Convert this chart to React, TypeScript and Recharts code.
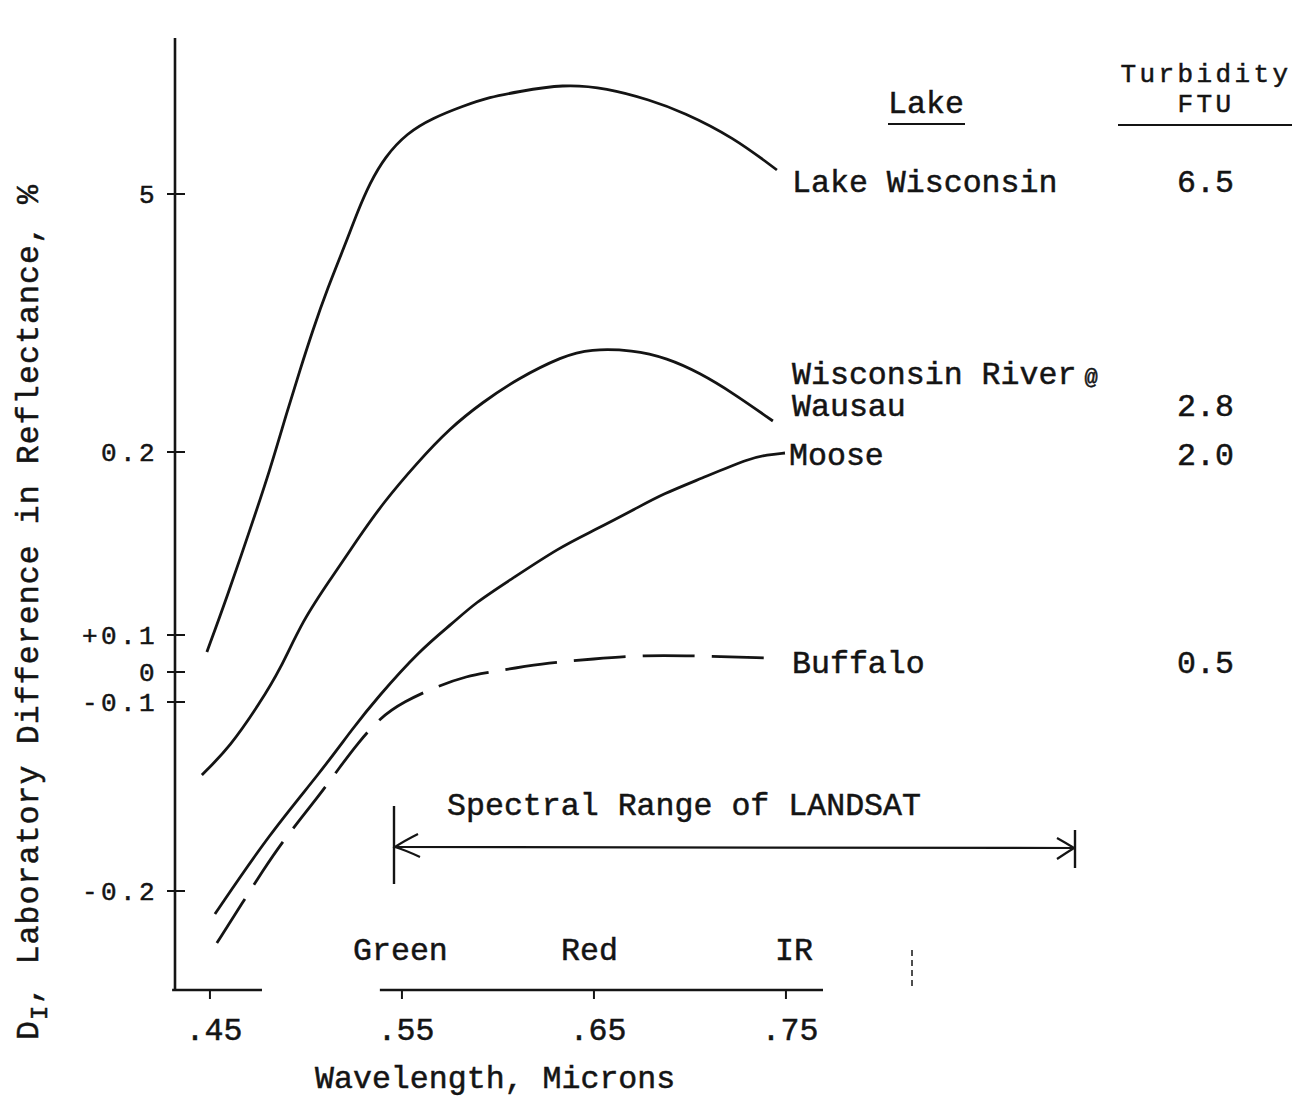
import React from 'react';
import { LineChart, Line, XAxis, YAxis, ReferenceLine, Customized } from 'recharts';

const FONT = '"Liberation Mono", "Courier New", monospace';
const INK = '#141414';
const FS = 31.6;

// Wavelength (microns) and plotted value (chart units; see tick labels) for each series
const lakeWisconsinWl = [0.4484, 0.4589, 0.4708, 0.4813, 0.4901, 0.4969, 0.5036, 0.5109, 0.5214, 0.5266, 0.5333, 0.5411, 0.5526, 0.5661, 0.5818, 0.5958, 0.6099, 0.6339, 0.6568, 0.6792, 0.6964, 0.7224, 0.7453];
const lakeWisconsinVal = [0.2, 0.75, 1.42, 2.02, 2.6, 3.02, 3.42, 3.82, 4.32, 4.59, 4.89, 5.15, 5.39, 5.54, 5.66, 5.75, 5.8, 5.88, 5.84, 5.72, 5.6, 5.35, 5.02];

const wisconsinRiverWl = [0.4458, 0.4604, 0.476, 0.4865, 0.4984, 0.5125, 0.5266, 0.5401, 0.5578, 0.575, 0.5922, 0.6099, 0.6339, 0.6479, 0.6703, 0.688, 0.7052, 0.7224, 0.7432];
const wisconsinRiverVal = [-1.03, -0.75, -0.31, 0.02, 0.52, 0.92, 1.32, 1.69, 2.09, 2.44, 2.7, 2.93, 3.16, 3.23, 3.22, 3.14, 2.99, 2.79, 2.51];

const mooseWl = [0.4526, 0.4813, 0.5073, 0.5245, 0.537, 0.5594, 0.5766, 0.588, 0.6063, 0.6323, 0.6495, 0.6724, 0.6859, 0.7052, 0.7313, 0.7401, 0.7495];
const mooseVal = [-2.42, -1.61, -1.01, -0.56, -0.26, 0.22, 0.49, 0.69, 0.92, 1.25, 1.41, 1.64, 1.78, 1.93, 2.14, 2.17, 2.19];

const buffaloWl = [0.4536, 0.4672, 0.4771, 0.4891, 0.5063, 0.5177, 0.5271, 0.5385, 0.5505, 0.5698, 0.5844, 0.5932, 0.6089, 0.6255, 0.6495, 0.6755, 0.7063, 0.7401];
const buffaloVal = [-2.71, -2.3, -2.0, -1.66, -1.25, -0.95, -0.71, -0.46, -0.3, -0.13, -0.04, -0.01, 0.04, 0.09, 0.13, 0.17, 0.16, 0.14];

const xTicks = [0.45, 0.55, 0.65, 0.75];
const xTickLabels = ['.45', '.55', '.65', '.75'];
const yTicks = [-2.19, -0.3, 0, 0.37, 2.2, 4.78];
const yTickLabels = ['-0.2', '-0.1', '0', '+0.1', '0.2', '5'];
const bandLabels = ['Green', 'Red', 'IR'];
const lakeNames = ['Lake Wisconsin', 'Wisconsin River', 'Moose', 'Buffalo'];
const turbidityFTU = ['6.5', '2.8', '2.0', '0.5'];

const X_DOMAIN: [number, number] = [0.4318, 1.0193];
const Y_DOMAIN: [number, number] = [-3.18, 6.34];

const toPoints = (wl: number[], val: number[]) => wl.map((w, i) => ({ w, v: val[i] }));
const lakeWisconsin = toPoints(lakeWisconsinWl, lakeWisconsinVal);
const wisconsinRiver = toPoints(wisconsinRiverWl, wisconsinRiverVal);
const moose = toPoints(mooseWl, mooseVal);
const buffalo = toPoints(buffaloWl, buffaloVal);

const nearest = (arr: number[], v: number) => {
  let best = 0;
  arr.forEach((a, i) => {
    if (Math.abs(a - v) < Math.abs(arr[best] - v)) best = i;
  });
  return best;
};

const txt = { fontFamily: FONT, fontSize: FS, fill: INK, stroke: INK, strokeWidth: 0.5 } as const;
// smaller glyphs for tightly stacked labels, same character pitch (~19px)
const txtSmall = { ...txt, fontSize: 26, letterSpacing: 3.4 } as const;

const XTick = (props: any) => {
  const { x, y, payload } = props;
  const i = nearest(xTicks, payload.value);
  return (
    <g>
      <line x1={x} x2={x} y1={y} y2={y + 9} stroke={INK} strokeWidth={2} />
      <text x={x + 4} y={y + 50} textAnchor="middle" {...txt}>
        {xTickLabels[i]}
      </text>
    </g>
  );
};

const YTick = (props: any) => {
  const { x, y, payload } = props;
  const i = nearest(yTicks, payload.value);
  return (
    <g>
      <line x1={x - 8} x2={x + 10} y1={y} y2={y} stroke={INK} strokeWidth={2} />
      <text x={x - 17} y={y + 9} textAnchor="end" {...txtSmall}>
        {yTickLabels[i]}
      </text>
    </g>
  );
};

const Annotations = () => (
  <g>
    {/* y-axis title */}
    <text transform="translate(38,1040) rotate(-90)" x={0} y={0} textAnchor="start" textLength={855} lengthAdjust="spacing" {...txt}>
      D<tspan dy={9} fontSize={24}>I</tspan>
      <tspan dy={-9}>,  Laboratory Difference in Reflectance, %</tspan>
    </text>
    {/* x-axis title */}
    <text x={315} y={1088} {...txt}>Wavelength, Microns</text>

    {/* legend header */}
    <text x={888} y={113} {...txt}>Lake</text>
    <line x1={888} x2={965} y1={124} y2={124} stroke={INK} strokeWidth={2} />
    <text x={1206} y={82} textAnchor="middle" {...txtSmall}>Turbidity</text>
    <text x={1206} y={112} textAnchor="middle" {...txtSmall}>FTU</text>
    <line x1={1118} x2={1292} y1={125} y2={125} stroke={INK} strokeWidth={2.2} />

    {/* series labels */}
    <text x={792} y={192} {...txt}>{lakeNames[0]}</text>
    <text x={792} y={384} {...txt}>
      {lakeNames[1]}
      <tspan dx={8} fontSize={22}>@</tspan>
    </text>
    <text x={792} y={416} {...txt}>Wausau</text>
    <text x={789} y={465} {...txt}>{lakeNames[2]}</text>
    <text x={792} y={673} {...txt}>{lakeNames[3]}</text>

    <text x={1177} y={192} {...txt}>{turbidityFTU[0]}</text>
    <text x={1177} y={416} {...txt}>{turbidityFTU[1]}</text>
    <text x={1177} y={465} {...txt}>{turbidityFTU[2]}</text>
    <text x={1177} y={673} {...txt}>{turbidityFTU[3]}</text>

    {/* LANDSAT range */}
    <text x={447} y={815} {...txt}>Spectral Range of LANDSAT</text>
    <line x1={394} x2={394} y1={806} y2={884} stroke={INK} strokeWidth={2.4} />
    <line x1={1075} x2={1075} y1={830} y2={868} stroke={INK} strokeWidth={2.4} />
    <line x1={394} x2={1075} y1={847} y2={848} stroke={INK} strokeWidth={2.2} />
    <path d="M418,834 Q404,841 395,847 Q405,850 420,857" fill="none" stroke={INK} strokeWidth={2.2} />
    <path d="M1057,838 Q1066,843 1074,848 Q1066,853 1057,859" fill="none" stroke={INK} strokeWidth={2.2} />

    {/* band labels */}
    <text x={353} y={960} {...txt}>{bandLabels[0]}</text>
    <text x={561} y={960} {...txt}>{bandLabels[1]}</text>
    <text x={775} y={960} {...txt}>{bandLabels[2]}</text>

    {/* scan mark */}
    <line x1={912} x2={912} y1={950} y2={990} stroke={INK} strokeWidth={1.5} strokeDasharray="6 4" />
  </g>
);

export default function App() {
  return (
    <div style={{ position: 'absolute', left: 0, top: 0, width: 1303, height: 1098, background: '#fff' }}>
      <LineChart width={1303} height={1098} margin={{ top: 38, right: 0, bottom: 0, left: 0 }}>
        <XAxis
          dataKey="w"
          type="number"
          domain={X_DOMAIN}
          allowDataOverflow
          ticks={xTicks}
          interval={0}
          height={108}
          axisLine={false}
          tickLine={false}
          tickSize={0}
          tickMargin={0}
          tick={<XTick />}
        />
        <YAxis
          type="number"
          domain={Y_DOMAIN}
          allowDataOverflow
          ticks={yTicks}
          interval={0}
          width={175}
          axisLine={{ stroke: INK, strokeWidth: 2.6 }}
          tickLine={false}
          tickSize={0}
          tickMargin={0}
          tick={<YTick />}
        />
        <ReferenceLine
          segment={[{ x: 0.4303, y: Y_DOMAIN[0] }, { x: 0.4771, y: Y_DOMAIN[0] }]}
          stroke={INK}
          strokeWidth={2.6}
          ifOverflow="visible"
        />
        <ReferenceLine
          segment={[{ x: 0.5385, y: Y_DOMAIN[0] }, { x: 0.7693, y: Y_DOMAIN[0] }]}
          stroke={INK}
          strokeWidth={2.6}
          ifOverflow="visible"
        />
        <Line data={lakeWisconsin} dataKey="v" type="basis" dot={false} stroke={INK} strokeWidth={2.8} isAnimationActive={false} />
        <Line data={wisconsinRiver} dataKey="v" type="basis" dot={false} stroke={INK} strokeWidth={2.8} isAnimationActive={false} />
        <Line data={moose} dataKey="v" type="basis" dot={false} stroke={INK} strokeWidth={2.8} isAnimationActive={false} />
        <Line data={buffalo} dataKey="v" type="basis" dot={false} stroke={INK} strokeWidth={2.8} strokeDasharray="52 17" isAnimationActive={false} />
        <Customized component={Annotations} />
      </LineChart>
    </div>
  );
}
